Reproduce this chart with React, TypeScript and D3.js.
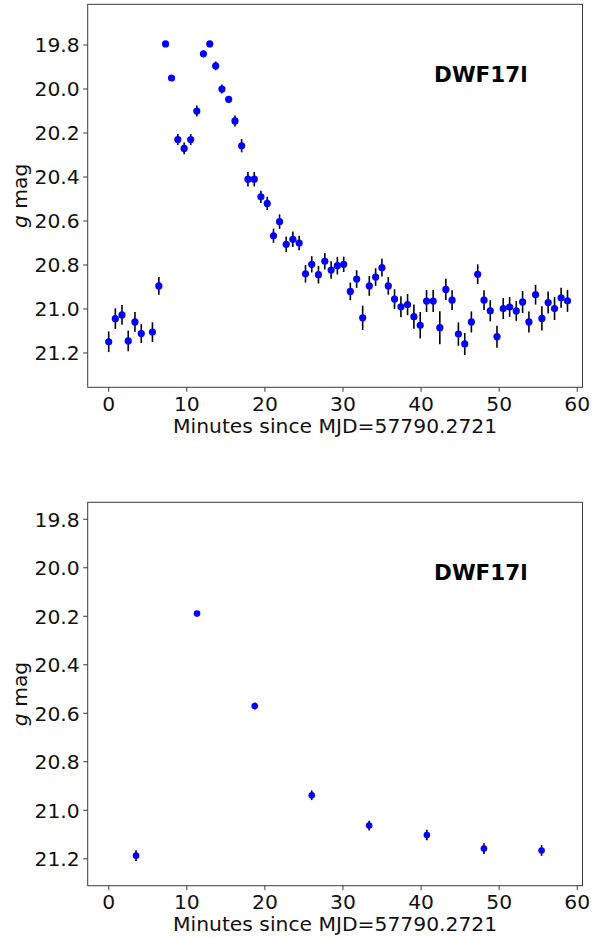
import React from "react";
import * as d3 from "d3";

const topTime = [0, 0.85, 1.7, 2.5, 3.36, 4.17, 5.6, 6.42, 7.28, 8.05, 8.85, 9.66, 10.5, 11.28, 12.13, 12.94, 13.7, 14.5, 15.36, 16.17, 17.02, 17.83, 18.64, 19.49, 20.3, 21.1, 21.88, 22.73, 23.58, 24.39, 25.2, 26.0, 26.86, 27.67, 28.48, 29.28, 30.09, 30.94, 31.75, 32.52, 33.37, 34.18, 34.99, 35.8, 36.6, 37.42, 38.27, 39.08, 39.89, 40.7, 41.55, 42.4, 43.17, 43.97, 44.78, 45.59, 46.44, 47.25, 48.06, 48.86, 49.72, 50.52, 51.34, 52.19, 53.0, 53.81, 54.66, 55.47, 56.27, 57.09, 57.93, 58.75];
const topMag = [21.149, 21.044, 21.027, 21.145, 21.059, 21.112, 21.105, 20.895, 19.795, 19.95, 20.23, 20.27, 20.23, 20.1, 19.84, 19.795, 19.895, 20.0, 20.047, 20.145, 20.258, 20.41, 20.41, 20.49, 20.52, 20.667, 20.603, 20.706, 20.683, 20.7, 20.84, 20.797, 20.844, 20.783, 20.823, 20.803, 20.797, 20.92, 20.864, 21.04, 20.895, 20.855, 20.812, 20.895, 20.955, 20.99, 20.98, 21.035, 21.074, 20.964, 20.964, 21.085, 20.911, 20.96, 21.114, 21.159, 21.059, 20.842, 20.96, 21.008, 21.126, 20.998, 20.991, 21.009, 20.968, 21.059, 20.935, 21.043, 20.971, 20.998, 20.949, 20.963];
const topErr = [0.047, 0.047, 0.045, 0.047, 0.045, 0.043, 0.045, 0.04, 0.01, 0.013, 0.025, 0.027, 0.025, 0.025, 0.015, 0.01, 0.02, 0.02, 0.015, 0.025, 0.03, 0.033, 0.033, 0.028, 0.03, 0.032, 0.033, 0.035, 0.035, 0.033, 0.04, 0.037, 0.04, 0.037, 0.04, 0.04, 0.035, 0.04, 0.04, 0.055, 0.045, 0.04, 0.04, 0.04, 0.045, 0.048, 0.048, 0.055, 0.06, 0.05, 0.05, 0.075, 0.048, 0.045, 0.053, 0.05, 0.048, 0.045, 0.045, 0.048, 0.05, 0.048, 0.045, 0.045, 0.05, 0.048, 0.045, 0.055, 0.05, 0.052, 0.045, 0.05];

const botTime = [3.5, 11.31, 18.7, 26.0, 33.35, 40.74, 48.05, 55.43];
const botMag = [21.187, 20.189, 20.57, 20.938, 21.063, 21.102, 21.158, 21.166];
const botErr = [0.022, 0.008, 0.014, 0.02, 0.02, 0.022, 0.022, 0.022];

const xTicks = [0, 10, 20, 30, 40, 50, 60];
const yTicks = [19.8, 20.0, 20.2, 20.4, 20.6, 20.8, 21.0, 21.2];
const xLabel = "Minutes since MJD=57790.2721";
const objName = "DWF17l";

const FONT = "'DejaVu Sans', sans-serif";
const LEFT = 87.7;
const RIGHT = 582.5;

interface PanelProps {
  top: number;
  bottom: number;
  yDomain: [number, number];
  t: number[];
  m: number[];
  e: number[];
  r: number;
}

function Panel({ top, bottom, yDomain, t, m, e, r }: PanelProps) {
  const x = d3.scaleLinear().domain([-2.69, 60.67]).range([LEFT, RIGHT]);
  const y = d3.scaleLinear().domain(yDomain).range([top, bottom]);
  const tickLen = 4.5;
  const fs = 20.3;
  return (
    <g>
      <rect x={LEFT} y={top} width={RIGHT - LEFT} height={bottom - top} fill="none" stroke="#3a3a3a" strokeWidth={1} />
      {xTicks.map((v) => (
        <g key={"x" + v}>
          <line x1={x(v)} x2={x(v)} y1={bottom} y2={bottom + tickLen} stroke="#3a3a3a" strokeWidth={1} />
          <text x={x(v)} y={bottom + 23.3} textAnchor="middle" fontSize={fs} fontFamily={FONT} fill="#111">
            {v}
          </text>
        </g>
      ))}
      {yTicks.map((v) => (
        <g key={"y" + v}>
          <line x1={LEFT - tickLen} x2={LEFT} y1={y(v)} y2={y(v)} stroke="#3a3a3a" strokeWidth={1} />
          <text x={LEFT - tickLen - 3.5} y={y(v)} dy="0.36em" textAnchor="end" fontSize={fs} fontFamily={FONT} fill="#111">
            {v.toFixed(1)}
          </text>
        </g>
      ))}
      <text x={(LEFT + RIGHT) / 2} y={bottom + 45.5} textAnchor="middle" fontSize={fs} fontFamily={FONT} fill="#111">
        {xLabel}
      </text>
      <text
        transform={`translate(26.5, ${(top + bottom) / 2}) rotate(-90)`}
        textAnchor="middle"
        fontSize={fs}
        fontFamily={FONT}
        fill="#111"
      >
        <tspan fontStyle="italic">g</tspan> mag
      </text>
      <text
        x={LEFT + 0.7 * (RIGHT - LEFT)}
        y={top + 0.202 * (bottom - top)}
        fontSize={21.5}
        fontWeight="bold"
        fontFamily={FONT}
        fill="#000"
      >
        {objName}
      </text>
      {t.map((tv, i) => (
        <line key={"e" + i} x1={x(tv)} x2={x(tv)} y1={y(m[i] - e[i])} y2={y(m[i] + e[i])} stroke="#000" strokeWidth={1.6} />
      ))}
      {t.map((tv, i) => (
        <circle key={"c" + i} cx={x(tv)} cy={y(m[i])} r={r} fill="#0000ff" />
      ))}
    </g>
  );
}

export default function App() {
  return (
    <svg
      width={602}
      height={938}
      viewBox="0 0 602 938"
      style={{ position: "absolute", left: 0, top: 0, background: "#fff" }}
    >
      <rect x={0} y={0} width={602} height={938} fill="#fff" />
      <Panel top={4.3} bottom={387.3} yDomain={[19.615, 21.356]} t={topTime} m={topMag} e={topErr} r={3.6} />
      <Panel top={502.3} bottom={885.7} yDomain={[19.73, 21.311]} t={botTime} m={botMag} e={botErr} r={3.3} />
    </svg>
  );
}
